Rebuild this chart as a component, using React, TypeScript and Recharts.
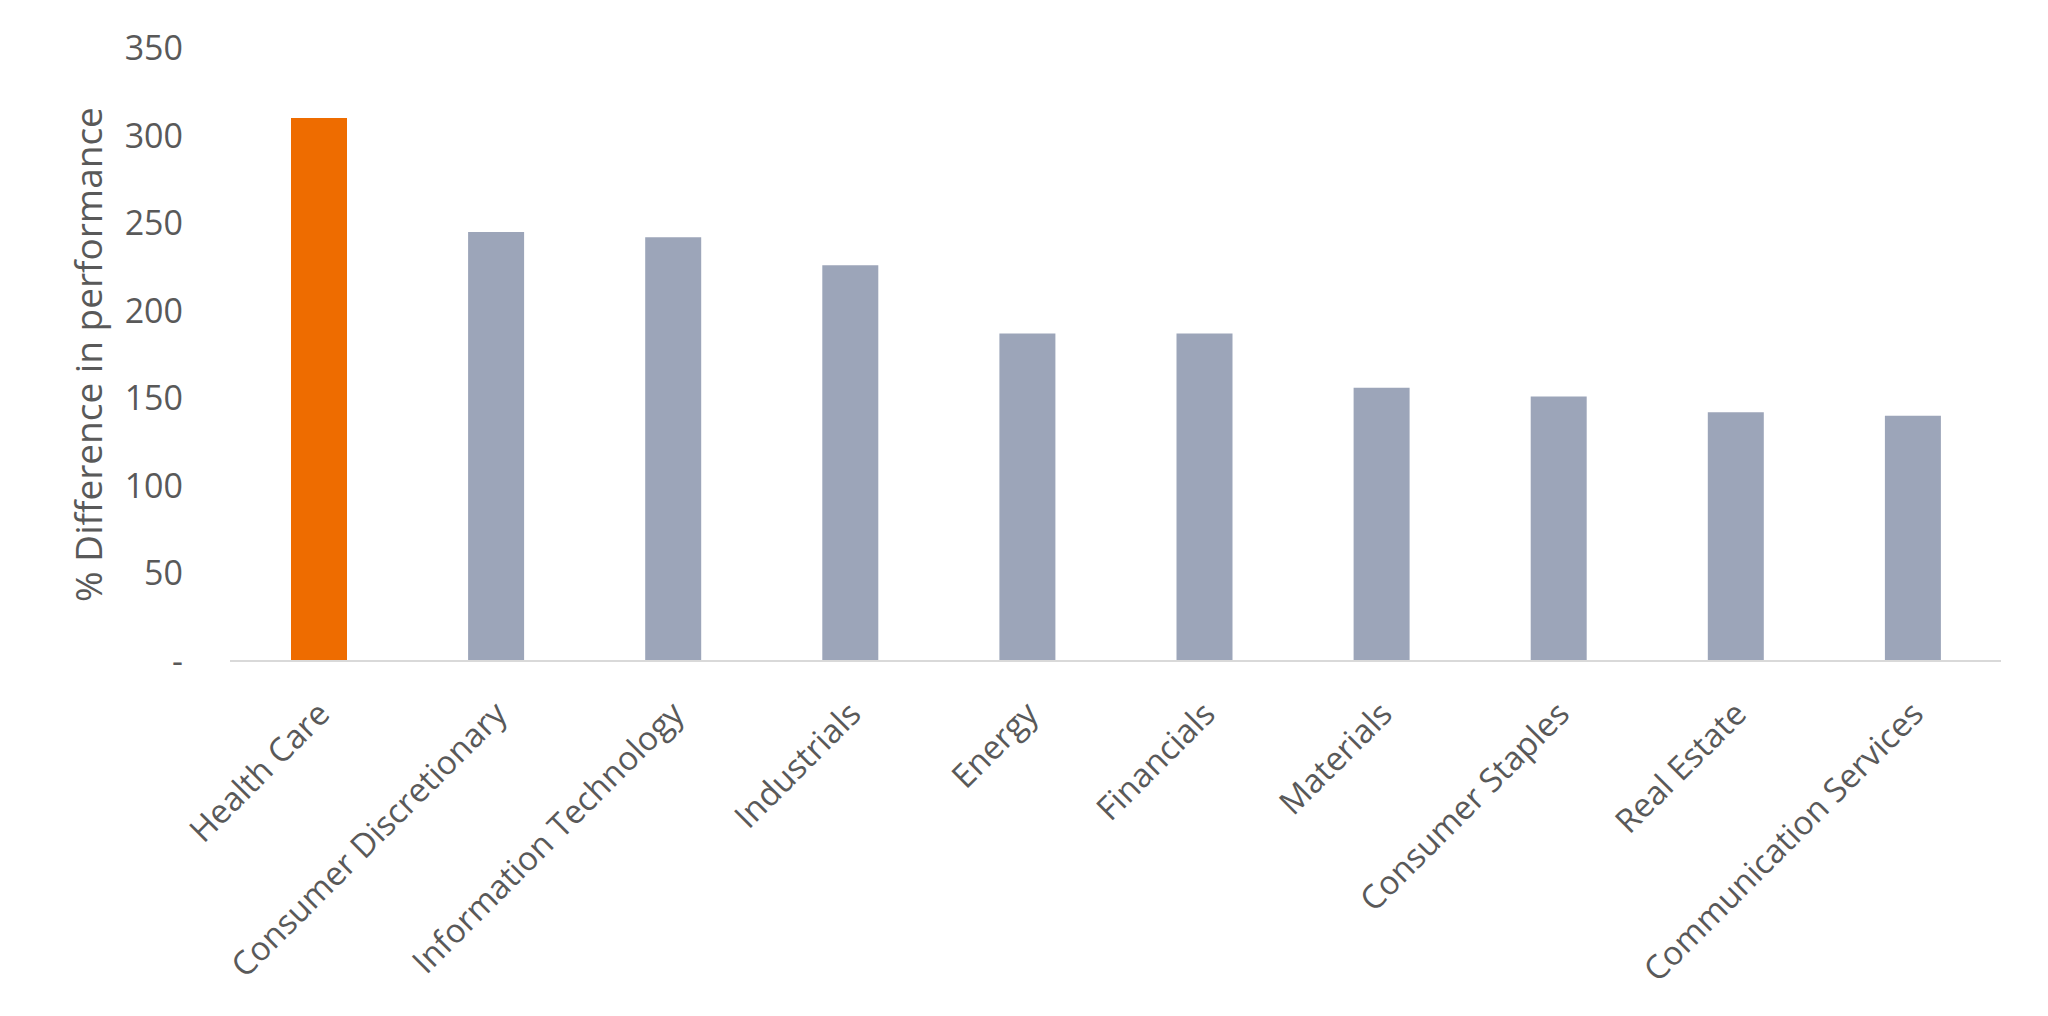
import React from 'react';
import { BarChart, Bar, XAxis, YAxis, Cell } from 'recharts';

const categories = [
  'Health Care',
  'Consumer Discretionary',
  'Information Technology',
  'Industrials',
  'Energy',
  'Financials',
  'Materials',
  'Consumer Staples',
  'Real Estate',
  'Communication Services',
];
const values = [310, 245, 242, 226, 187, 187, 156, 151, 142, 140];
const barColors = ['#EE6C00', '#9CA5B9', '#9CA5B9', '#9CA5B9', '#9CA5B9', '#9CA5B9', '#9CA5B9', '#9CA5B9', '#9CA5B9', '#9CA5B9'];
const yTicks = [0, 50, 100, 150, 200, 250, 300, 350];
const yLabel = '% Difference in performance';

const data = categories.map((name, i) => ({ name, value: values[i] }));

const FONT = '"Open Sans", sans-serif';
const TEXT = '#595959';

const XTick = (props: any) => {
  const { x, y, payload } = props;
  return (
    <g transform={`translate(${x},${y})`}>
      <text
        x={0}
        y={0}
        transform="translate(13,47) rotate(-45)"
        textAnchor="end"
        fontFamily={FONT}
        fontSize={33}
        fill={TEXT}
      >
        {payload.value}
      </text>
    </g>
  );
};

export default function App() {
  return (
    <div style={{ position: 'absolute', left: 0, top: 0, width: 2048, height: 1016, background: '#fff' }}>
      <BarChart
        width={2048}
        height={1016}
        data={data}
        margin={{ top: 48, right: 47, bottom: 0, left: 0 }}
        barCategoryGap={0}
      >
        <XAxis
          dataKey="name"
          interval={0}
          tickLine={false}
          axisLine={{ stroke: '#D9D9D9', strokeWidth: 2 }}
          height={355}
          tick={<XTick />}
        />
        <YAxis
          width={230}
          domain={[0, 350]}
          ticks={yTicks}
          interval={0}
          axisLine={false}
          tickLine={false}
          tickMargin={41}
          tickFormatter={(v: number) => (v === 0 ? '-' : String(v))}
          tick={{ fontFamily: FONT, fontSize: 34, fill: TEXT }}
          label={{
            value: yLabel,
            angle: -90,
            position: 'center',
            dx: -26,
            style: { fontFamily: FONT, fontSize: 37, fill: TEXT, textAnchor: 'middle' },
          }}
        />
        <Bar dataKey="value" barSize={56} isAnimationActive={false}>
          {data.map((d, i) => (
            <Cell key={d.name} fill={barColors[i]} />
          ))}
        </Bar>
      </BarChart>
    </div>
  );
}
